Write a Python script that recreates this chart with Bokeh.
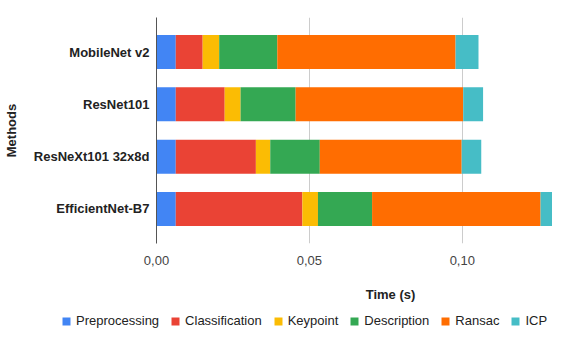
from bokeh.plotting import figure
from bokeh.layouts import column
from bokeh.models import Range1d, FactorRange, FixedTicker, Legend, LegendItem, Label, ColumnDataSource
from bokeh.embed import file_html
from bokeh.resources import INLINE

methods = ["MobileNet v2", "ResNet101", "ResNeXt101 32x8d", "EfficientNet-B7"]
stages = ["Preprocessing", "Classification", "Keypoint", "Description", "Ransac", "ICP"]
preprocessing = [0.0063, 0.0063, 0.0063, 0.0063]
classification = [0.0088, 0.0160, 0.0262, 0.0414]
keypoint = [0.0054, 0.0052, 0.0047, 0.0051]
description = [0.0190, 0.0180, 0.0162, 0.0177]
ransac = [0.0583, 0.0548, 0.0464, 0.0551]
icp = [0.0075, 0.0065, 0.0064, 0.0065]
x_ticks = [0, 0.05, 0.1]
x_tick_labels = ["0,00", "0,05", "0,10"]
colors = ["#4285F4", "#EA4335", "#FBBC04", "#34A853", "#FF6D01", "#46BDC6"]

FONT = "Liberation Sans"

data = {"method": methods, "Preprocessing": preprocessing, "Classification": classification,
        "Keypoint": keypoint, "Description": description, "Ransac": ransac, "ICP": icp}
source = ColumnDataSource(data)

p = figure(width=552, height=273, output_backend="svg", toolbar_location=None,
           y_range=FactorRange(factors=list(reversed(methods)), range_padding=0.16,
                               range_padding_units="absolute"),
           x_range=Range1d(0, 0.1295),
           min_border_left=148, min_border_right=0, min_border_top=17, min_border_bottom=30)

p.hbar_stack(stages, y="method", height=0.65, color=colors, source=source, line_color=None)

p.outline_line_color = None
p.ygrid.grid_line_color = None
p.xgrid.grid_line_color = "#cccccc"
p.xgrid.ticker = FixedTicker(ticks=x_ticks[1:])

p.xaxis.ticker = FixedTicker(ticks=x_ticks)
p.xaxis.major_label_overrides = {t: l for t, l in zip(x_ticks, x_tick_labels)}
p.xaxis.axis_line_color = None
p.xaxis.major_tick_line_color = None
p.xaxis.minor_tick_line_color = None
p.xaxis.major_tick_out = 0
p.xaxis.major_label_standoff = 12
p.xaxis.major_label_text_font = FONT
p.xaxis.major_label_text_font_size = "13px"
p.xaxis.major_label_text_color = "#444444"

p.yaxis.axis_line_color = "#555555"
p.yaxis.major_tick_line_color = None
p.yaxis.minor_tick_line_color = None
p.yaxis.major_tick_out = 0
p.yaxis.major_label_standoff = 7
p.yaxis.major_label_text_font = FONT
p.yaxis.major_label_text_font_size = "13px"
p.yaxis.major_label_text_font_style = "bold"
p.yaxis.major_label_text_color = "#222222"
p.yaxis.axis_label = "Methods"
p.yaxis.axis_label_text_font = FONT
p.yaxis.axis_label_text_font_size = "13px"
p.yaxis.axis_label_text_font_style = "bold"
p.yaxis.axis_label_text_color = "#222222"
p.yaxis.axis_label_standoff = 12

# bottom strip: x-axis title and legend (pixel-like data units)
p2 = figure(width=552, height=65, output_backend="svg", toolbar_location=None,
            x_axis_location=None, y_axis_location=None,
            x_range=Range1d(0, 552), y_range=Range1d(0, 65),
            min_border_left=0, min_border_right=0, min_border_top=0, min_border_bottom=0)
try:
    p2.frame_align = False
except AttributeError:
    pass
p2.outline_line_color = None
p2.grid.grid_line_color = None
# same stacked series, placed below the strip's visible range so only the legend shows
leg_renderers = p2.hbar_stack(stages, y=-100, height=1, color=colors, source=source, line_color=None)

p2.add_layout(Label(x=390, y=44, text="Time (s)", text_font=FONT, text_font_size="13px",
                    text_font_style="bold", text_color="#222222",
                    text_align="center", text_baseline="middle"))

items = [LegendItem(label=s, renderers=[r]) for s, r in zip(stages, leg_renderers)]
legend = Legend(items=items, orientation="horizontal", location=(61, 10),
                glyph_width=10, glyph_height=10, label_standoff=5, spacing=11,
                padding=0, margin=0, border_line_color=None, background_fill_alpha=0,
                label_text_font=FONT, label_text_font_size="13px", label_text_color="#222222",
                label_height=13)
p2.add_layout(legend)

layout = column(p, p2, spacing=0)
open("out.html", "w").write(file_html(layout, INLINE))
